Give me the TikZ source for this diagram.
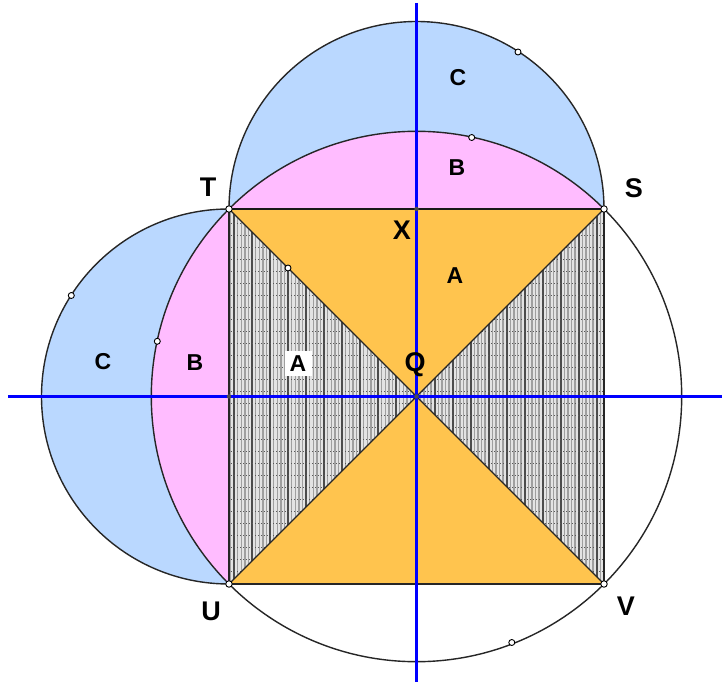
\documentclass[tikz,border=0pt]{standalone}
\usepackage{fontspec}
\setmainfont{Liberation Sans}
\begin{document}
\begin{tikzpicture}[x=1pt,y=-1pt,
  vlabel/.style={font=\bfseries\fontsize{27}{27}\selectfont, inner sep=0pt},
  rlabel/.style={font=\bfseries\fontsize{23}{23}\selectfont, inner sep=0pt},
  pt/.style={circle, draw=black, fill=white, line width=0.9pt, inner sep=0pt, minimum size=6.5pt},
  dotpt/.style={circle, fill=black!70, inner sep=0pt, minimum size=4.5pt},
  outline/.style={draw=black!85, line width=1.4pt},
  axis/.style={draw=axisblue, line width=3.4pt},
  hatchv/.style={draw=gray!75, line width=1.4pt},
  hatchvd/.style={draw=black!70, line width=1.4pt},
  hatchh/.style={draw=black!65, line width=1pt, dotted}]
\definecolor{lblue}{RGB}{186,216,255}
\definecolor{lpink}{RGB}{255,188,255}
\definecolor{lorange}{RGB}{255,196,78}
\definecolor{axisblue}{RGB}{0,0,255}
\useasboundingbox (0,0) rectangle (724,684);
\fill[white] (0,0) rectangle (724,684);
\coordinate (T) at (229,209);
\coordinate (S) at (604,209);
\coordinate (U) at (229,584);
\coordinate (V) at (604,584);
\coordinate (Q) at (416.5,396.5);
\coordinate (X) at (416.5,209);
\coordinate (L) at (229,396.5);
% top semicircle C
\begin{scope}
  \clip (0,0) rectangle (724,209);
  \fill[lblue] (X) circle (187.5);
  \fill[lpink] (Q) circle (265.2);
  \draw[outline] (X) circle (187.5);
\end{scope}
% left semicircle C
\begin{scope}
  \clip (0,0) rectangle (229,684);
  \fill[lblue] (L) circle (187.5);
  \fill[lpink] (Q) circle (265.2);
  \draw[outline] (L) circle (187.5);
\end{scope}
% circumcircle
\draw[outline] (Q) circle (265.2);
% orange triangles
\fill[lorange] (T) -- (S) -- (Q) -- cycle;
\fill[lorange] (U) -- (V) -- (Q) -- cycle;
% hatched triangles
\begin{scope}
  \clip (T) -- (U) -- (Q) -- cycle;
  \fill[gray!22] (229,209) rectangle (420,584);
  \foreach \i in {0,...,55} \draw[hatchv] (230.5+3.6*\i,205) -- (230.5+3.6*\i,590);
  \foreach \i in {0,...,11} \draw[hatchvd] (234+18*\i,205) -- (234+18*\i,590);
  \foreach \j in {0,...,31} \draw[hatchh] (225,212+12*\j) -- (420,212+12*\j);
\end{scope}
\begin{scope}
  \clip (S) -- (V) -- (Q) -- cycle;
  \fill[gray!22] (412,209) rectangle (604,584);
  \foreach \i in {0,...,55} \draw[hatchv] (413+3.6*\i,205) -- (413+3.6*\i,590);
  \foreach \i in {0,...,11} \draw[hatchvd] (417+18*\i,205) -- (417+18*\i,590);
  \foreach \j in {0,...,31} \draw[hatchh] (410,212+12*\j) -- (610,212+12*\j);
\end{scope}
% square and diagonals
\draw[black!85, line width=1.2pt] (T) -- (U) -- (V) -- (S);
\draw[black!85, line width=1.2pt] (T) -- (V) (S) -- (U);
\draw[black!90, line width=2.6pt] (T) -- (S);
% axes
\coordinate (AxT) at (416.5,3);
\coordinate (AxB) at (416.5,682);
\coordinate (AxL) at (8,396.5);
\coordinate (AxR) at (722,396.5);
\draw[axis] (AxT) -- (AxB);
\draw[axis] (AxL) -- (AxR);
% points
\node[pt] (pT) at (T) {};
\node[pt] (pS) at (S) {};
\node[pt] (pU) at (U) {};
\node[pt] (pV) at (V) {};
\node[dotpt] (pX) at (X) {};
\node[dotpt] (pL) at (L) {};
\node[dotpt] (pQ) at (Q) {};
\node[pt, minimum size=6pt] (p1) at (518,52) {};
\node[pt, minimum size=6pt] (p2) at (471.7,137.5) {};
\node[pt, minimum size=6pt] (p3) at (71.3,295.5) {};
\node[pt, minimum size=6pt] (p4) at (157.3,341.3) {};
\node[pt, minimum size=6pt] (p5) at (288,268) {};
\node[pt, minimum size=6pt] (p6) at (511.8,642.5) {};
% vertex labels
\node[vlabel] (lT) at (208,187) {T};
\node[vlabel] (lS) at (634,188) {S};
\node[vlabel] (lX) at (402,230) {X};
\node[vlabel] (lQ) at (415,365) {Q};
\node[vlabel] (lU) at (211,611) {U};
\node[vlabel] (lV) at (626,606) {V};
% region labels
\node[rlabel] (rC1) at (458,78) {C};
\node[rlabel] (rB1) at (457,168) {B};
\node[rlabel] (rA1) at (455,276) {A};
\node[rlabel] (rC2) at (103,362) {C};
\node[rlabel] (rB2) at (195,363) {B};
\node[rlabel, fill=white, minimum width=27pt, minimum height=25pt] (rA2) at (298,364) {A};
\end{tikzpicture}
\end{document}
